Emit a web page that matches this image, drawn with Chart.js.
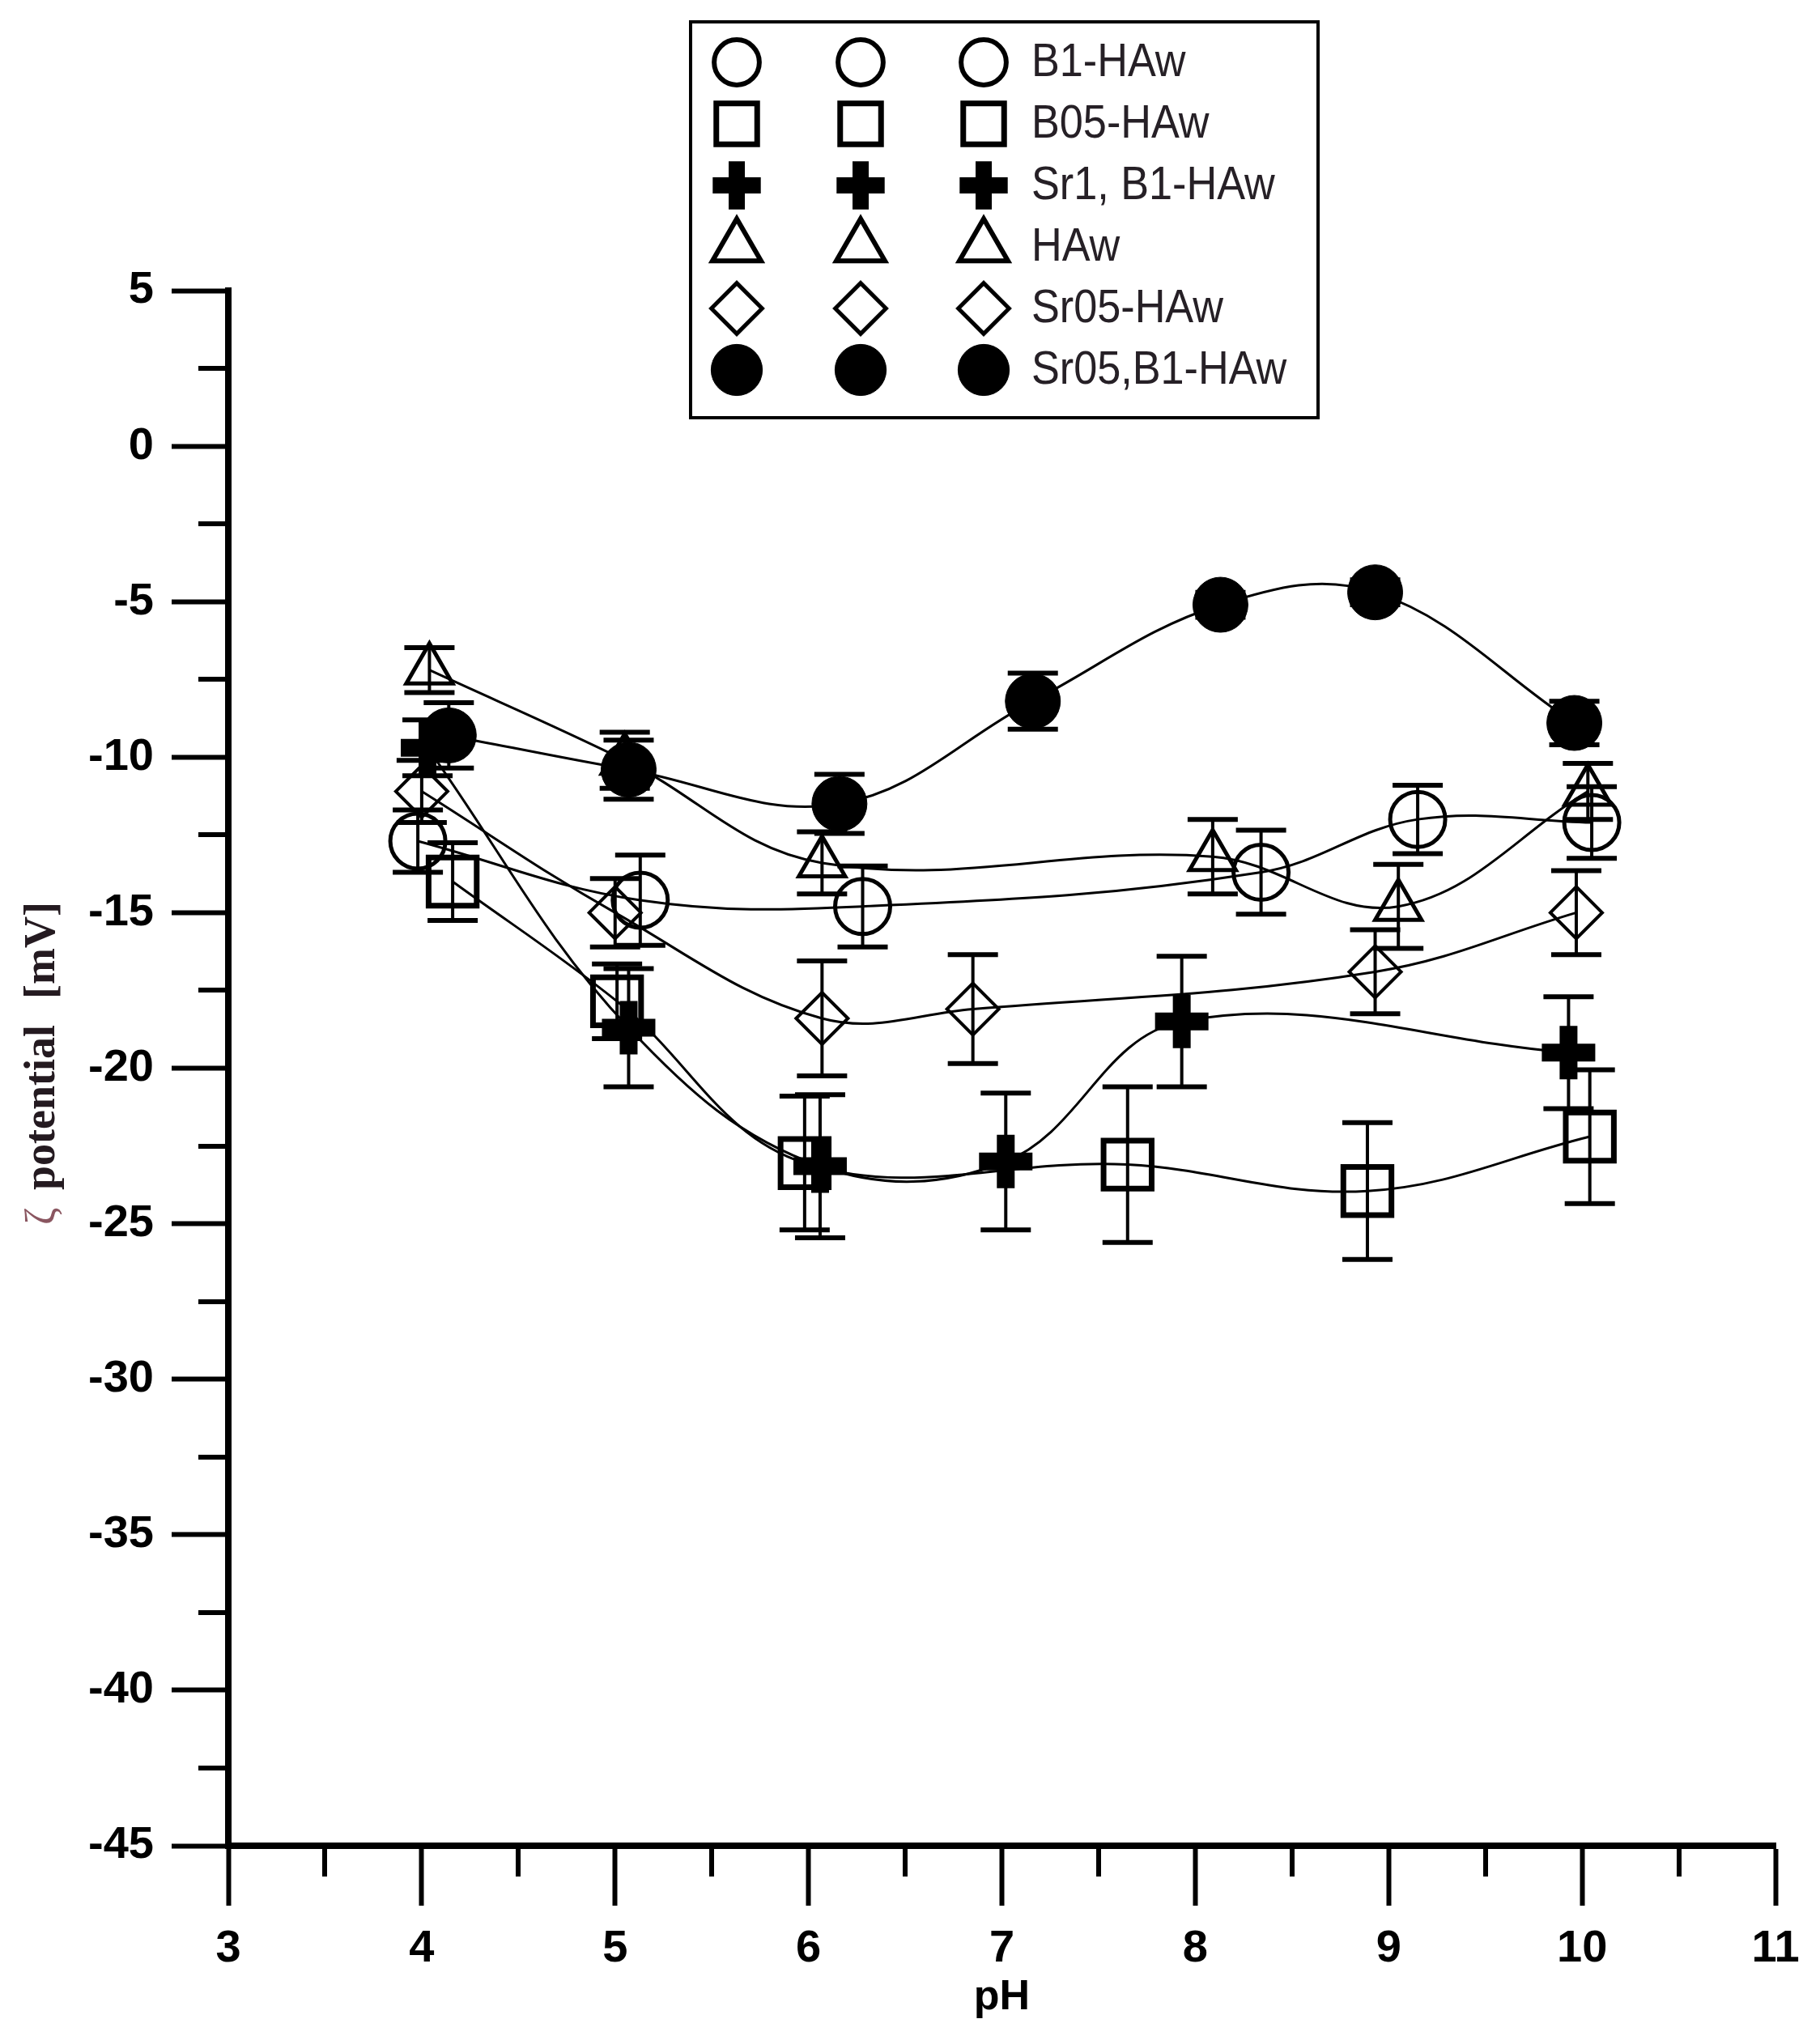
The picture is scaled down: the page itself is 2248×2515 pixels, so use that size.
<!DOCTYPE html>
<html>
<head>
<meta charset="utf-8">
<script src="https://cdn.jsdelivr.net/npm/chart.js@4.4.0/dist/chart.umd.min.js"></script>
<style>
html,body{margin:0;padding:0;background:#fff;}
#wrap{position:absolute;left:0;top:0;width:2248px;height:2515px;}
</style>
</head>
<body>
<div id="wrap"><canvas id="c" width="2248" height="2515"></canvas></div>
<script>
// ---------------- DATA ----------------
const seriesNames = ['B1-HAw', 'B05-HAw', 'Sr1, B1-HAw', 'HAw', 'Sr05-HAw', 'Sr05,B1-HAw'];

const b1_pH   = [3.98, 5.13, 6.28, 8.34, 9.15, 10.05];
const b1_zeta = [-12.7, -14.6, -14.8, -13.7, -12.0, -12.1];
const b1_err  = [1.0, 1.45, 1.3, 1.35, 1.1, 1.15];

const b05_pH   = [4.16, 5.01, 5.98, 7.65, 8.89, 10.04];
const b05_zeta = [-14.0, -17.85, -23.05, -23.1, -23.95, -22.2];
const b05_err  = [1.25, 1.2, 2.15, 2.5, 2.2, 2.15];

const sr1b1_pH   = [4.03, 5.07, 6.06, 7.02, 7.93, 9.93];
const sr1b1_zeta = [-9.7, -18.7, -23.15, -23.0, -18.5, -19.5];
const sr1b1_err  = [0.9, 1.9, 2.3, 2.2, 2.1, 1.8];

const haw_pH   = [4.04, 5.05, 6.07, 8.09, 9.05, 10.03];
const haw_zeta = [-7.2, -10.1, -13.4, -13.2, -14.8, -11.1];
const haw_err  = [0.72, 0.9, 1.0, 1.2, 1.35, 0.9];

const sr05_pH   = [4.0, 5.0, 6.07, 6.85, 8.93, 9.97];
const sr05_zeta = [-11.1, -15.0, -18.4, -18.1, -16.9, -15.0];
const sr05_err  = [1.0, 1.1, 1.85, 1.75, 1.35, 1.35];

const sr05b1_pH   = [4.14, 5.07, 6.16, 7.16, 8.13, 8.93, 9.96];
const sr05b1_zeta = [-9.3, -10.4, -11.5, -8.2, -5.1, -4.7, -8.9];
const sr05b1_err  = [1.05, 0.95, 0.95, 0.9, 0.4, 0.4, 0.7];

const xTickValues = [3, 4, 5, 6, 7, 8, 9, 10, 11];
const yTickValues = [5, 0, -5, -10, -15, -20, -25, -30, -35, -40, -45];
const xAxisTitle = 'pH';
const yAxisTitleParts = ['ζ', 'potential', '[mV]'];

// ---------------- STYLES ----------------
const markerStyles = [
  {pointStyle: 'circle',   radius: 34, bw: 5,  fill: 'rgba(0,0,0,0)'},
  {pointStyle: 'rect',     radius: 42, bw: 7,  fill: 'rgba(0,0,0,0)'},
  {pointStyle: 'cross',    radius: 33, bw: 22, fill: '#000'},
  {pointStyle: 'triangle', radius: 33, bw: 5,  fill: 'rgba(0,0,0,0)'},
  {pointStyle: 'rectRot',  radius: 32, bw: 4,  fill: 'rgba(0,0,0,0)'},
  {pointStyle: 'circle',   radius: 34, bw: 1,  fill: '#000'}
];
const legendMarkerScale = [0.82, 0.85, 0.9, 1.05, 0.98, 0.93];
const legendBorderWidths = [6, 7, 20, 6, 5, 1];

const allPH   = [b1_pH, b05_pH, sr1b1_pH, haw_pH, sr05_pH, sr05b1_pH];
const allZeta = [b1_zeta, b05_zeta, sr1b1_zeta, haw_zeta, sr05_zeta, sr05b1_zeta];
const allErr  = [b1_err, b05_err, sr1b1_err, haw_err, sr05_err, sr05b1_err];

const datasets = seriesNames.map((name, k) => ({
  label: name,
  data: allPH[k].map((x, i) => ({x: x, y: allZeta[k][i]})),
  errors: allErr[k],
  borderColor: '#000',
  borderWidth: 3,
  tension: 0.38,
  fill: false,
  clip: false,
  order: seriesNames.length - k,
  pointStyle: markerStyles[k].pointStyle,
  pointRadius: markerStyles[k].radius,
  pointHoverRadius: markerStyles[k].radius,
  pointBorderWidth: markerStyles[k].bw,
  pointBorderColor: '#000',
  pointBackgroundColor: markerStyles[k].fill
}));

// ---------------- PLUGINS ----------------
const errorBarPlugin = {
  id: 'errorBars',
  afterDatasetsDraw(chart) {
    const ctx = chart.ctx, xs = chart.scales.x, ys = chart.scales.y;
    ctx.save();
    ctx.strokeStyle = '#000';
    chart.data.datasets.forEach(ds => {
      ds.data.forEach((p, i) => {
        const e = ds.errors[i];
        const px = xs.getPixelForValue(p.x);
        const yt = ys.getPixelForValue(p.y + e);
        const yb = ys.getPixelForValue(p.y - e);
        ctx.lineWidth = 4;
        ctx.beginPath(); ctx.moveTo(px, yt); ctx.lineTo(px, yb); ctx.stroke();
        ctx.lineWidth = 6;
        ctx.beginPath();
        ctx.moveTo(px - 31, yt); ctx.lineTo(px + 31, yt);
        ctx.moveTo(px - 31, yb); ctx.lineTo(px + 31, yb);
        ctx.stroke();
      });
    });
    ctx.restore();
  }
};

const minorTickPlugin = {
  id: 'minorTicks',
  afterDraw(chart) {
    const ctx = chart.ctx, xs = chart.scales.x, ys = chart.scales.y, a = chart.chartArea;
    ctx.save();
    ctx.strokeStyle = '#000';
    ctx.lineWidth = 6;
    ctx.beginPath();
    for (let i = 0; i < xTickValues.length - 1; i++) {
      const v = (xTickValues[i] + xTickValues[i + 1]) / 2;
      const px = Math.round(xs.getPixelForValue(v));
      ctx.moveTo(px, a.bottom); ctx.lineTo(px, a.bottom + 38);
    }
    for (let i = 0; i < yTickValues.length - 1; i++) {
      const v = (yTickValues[i] + yTickValues[i + 1]) / 2;
      const py = Math.round(ys.getPixelForValue(v));
      ctx.moveTo(a.left, py); ctx.lineTo(a.left - 37, py);
    }
    ctx.stroke();
    ctx.restore();
  }
};

const yTitlePlugin = {
  id: 'yTitle',
  afterDraw(chart) {
    const ctx = chart.ctx;
    ctx.save();
    ctx.translate(67, 0);
    ctx.rotate(-Math.PI / 2);
    ctx.textBaseline = 'alphabetic';
    ctx.textAlign = 'left';
    ctx.fillStyle = '#8a5660';
    ctx.font = '52px "Liberation Serif"';
    ctx.fillText(yAxisTitleParts[0], -1513, 0);
    ctx.fillStyle = '#241a20';
    ctx.font = 'bold 54px "Liberation Serif"';
    ctx.fillText(yAxisTitleParts[1], -1470, 0);
    ctx.fillText(yAxisTitleParts[2], -1234, 0);
    ctx.restore();
  }
};

const legendPlugin = {
  id: 'customLegend',
  afterDraw(chart) {
    const ctx = chart.ctx;
    const box = {l: 853, t: 27, r: 1628, b: 516};
    ctx.save();
    ctx.fillStyle = '#fff';
    ctx.fillRect(box.l, box.t, box.r - box.l, box.b - box.t);
    ctx.strokeStyle = '#000';
    ctx.lineWidth = 4;
    ctx.strokeRect(box.l, box.t, box.r - box.l, box.b - box.t);
    const cols = [910, 1063, 1215];
    seriesNames.forEach((name, k) => {
      const cy = 77 + k * 76;
      const ms = markerStyles[k];
      cols.forEach(cx => {
        ctx.save();
        ctx.fillStyle = ms.fill;
        ctx.strokeStyle = '#000';
        ctx.lineWidth = legendBorderWidths[k];
        Chart.helpers.drawPoint(ctx, {
          pointStyle: ms.pointStyle, rotation: 0,
          radius: ms.radius * legendMarkerScale[k], borderWidth: legendBorderWidths[k]
        }, cx, cy);
        ctx.restore();
      });
      ctx.save();
      ctx.translate(1274, cy + 17);
      ctx.scale(0.9, 1);
      ctx.fillStyle = '#262026';
      ctx.font = '58px "Liberation Sans"';
      ctx.textBaseline = 'alphabetic';
      ctx.textAlign = 'left';
      ctx.fillText(name, 0, 0);
      ctx.restore();
    });
    ctx.restore();
  }
};

// ---------------- CHART ----------------
Chart.defaults.font.family = '"Liberation Sans", Arial, sans-serif';

new Chart(document.getElementById('c'), {
  type: 'line',
  data: {datasets: datasets},
  options: {
    responsive: false,
    animation: false,
    devicePixelRatio: 1,
    layout: {padding: {left: 0, right: 45, top: 359, bottom: 0}},
    plugins: {legend: {display: false}, tooltip: {enabled: false}},
    scales: {
      x: {
        type: 'linear', position: 'bottom',
        min: xTickValues[0], max: xTickValues[xTickValues.length - 1],
        afterBuildTicks(s) { s.ticks = xTickValues.map(v => ({value: v})); },
        ticks: {
          color: '#000', padding: 20, maxRotation: 0, autoSkip: false,
          font: {size: 56, weight: 'bold'}
        },
        grid: {drawOnChartArea: false, drawTicks: true, tickLength: 74, tickWidth: 6, tickColor: '#000'},
        border: {display: true, width: 8, color: '#000'},
        title: {
          display: true, text: xAxisTitle, color: '#000',
          font: {size: 52, weight: 'bold'}, padding: {top: 0, bottom: 16}
        },
        afterFit(s) { s.height = 235; }
      },
      y: {
        type: 'linear', position: 'left',
        min: yTickValues[yTickValues.length - 1], max: yTickValues[0],
        afterBuildTicks(s) { s.ticks = yTickValues.slice().reverse().map(v => ({value: v})); },
        ticks: {
          color: '#000', padding: 22, autoSkip: false,
          font: {size: 56, weight: 'bold'}
        },
        grid: {drawOnChartArea: false, drawTicks: true, tickLength: 70, tickWidth: 6, tickColor: '#000'},
        border: {display: true, width: 8, color: '#000'},
        afterFit(s) { s.width = 282; }
      }
    }
  },
  plugins: [errorBarPlugin, minorTickPlugin, yTitlePlugin, legendPlugin]
});
</script>
</body>
</html>
